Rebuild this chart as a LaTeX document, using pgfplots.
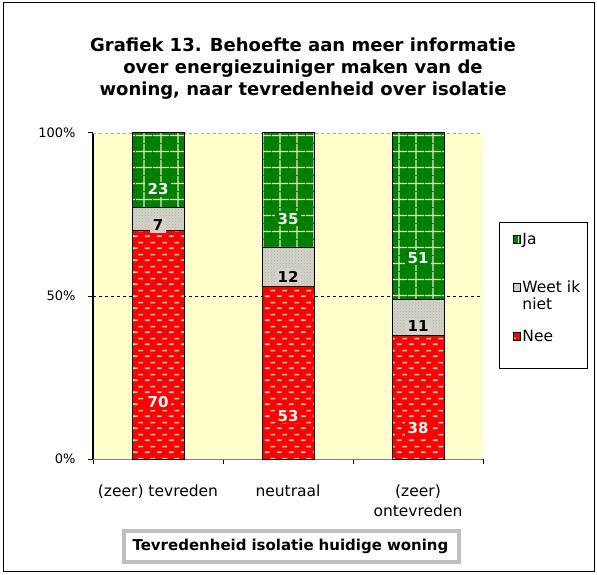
\documentclass[border=0pt]{standalone}
\usepackage{fontspec}
\setmainfont{DejaVu Sans}
\usepackage{pgfplots}
\pgfplotsset{compat=1.18}
\usetikzlibrary{patterns}

\definecolor{bgyellow}{RGB}{255,255,204}
\definecolor{jagreen}{RGB}{0,128,0}
\definecolor{neered}{RGB}{255,0,0}
\definecolor{weetgray}{RGB}{210,210,198}
\definecolor{dashpink}{RGB}{255,205,205}
\definecolor{gridcream}{RGB}{225,235,190}

% white dashes on the red bars
\pgfdeclarepatternformonly{reddashes}{\pgfqpoint{0pt}{0pt}}{\pgfqpoint{12pt}{12pt}}{\pgfqpoint{12pt}{12pt}}{%
  \pgfsetlinewidth{1.8pt}%
  \pgfpathmoveto{\pgfqpoint{1pt}{3pt}}\pgfpathlineto{\pgfqpoint{6pt}{3pt}}%
  \pgfpathmoveto{\pgfqpoint{7pt}{9pt}}\pgfpathlineto{\pgfqpoint{12pt}{9pt}}%
  \pgfusepath{stroke}}
% coarse grid on the green bars
\pgfdeclarepatternformonly{biggrid}{\pgfqpoint{0pt}{0pt}}{\pgfqpoint{17pt}{16pt}}{\pgfqpoint{17pt}{16pt}}{%
  \pgfsetlinewidth{1.3pt}%
  \pgfpathmoveto{\pgfqpoint{0pt}{8pt}}\pgfpathlineto{\pgfqpoint{17pt}{8pt}}%
  \pgfpathmoveto{\pgfqpoint{8.5pt}{0pt}}\pgfpathlineto{\pgfqpoint{8.5pt}{16pt}}%
  \pgfusepath{stroke}}

\begin{document}
\begin{tikzpicture}[x=1pt,y=1pt]
\fill[white] (0,0) rectangle (597,574);
\draw[black,line width=1pt] (3,3) rectangle (594,571);
\node[font=\bfseries\fontsize{18}{22}\selectfont,align=center] at (303,505)
  {Grafiek 13. Behoefte aan meer informatie\\over energiezuiniger maken van de\\woning, naar tevredenheid over isolatie};
\node[draw=gray!50,line width=3.5pt,font=\bfseries\fontsize{15}{16}\selectfont,
  minimum width=335pt,minimum height=31pt,text width=318pt,align=left] at (291.5,27.5)
  {Tevredenheid isolatie huidige woning};
% legend frame
\draw[black,line width=0.9pt] (499.5,206) rectangle (587,352);
\begin{axis}[
at={(93pt,115pt)},anchor=south west,
scale only axis,width=390pt,height=326pt,
ybar stacked,bar width=52pt,
xmin=-0.5,xmax=2.5,ymin=0,ymax=100,
axis background/.style={fill=bgyellow},
axis x line*=bottom,axis y line*=left,
x axis line style={gray,line width=1pt,-},
y axis line style={black,line width=1.6pt,-},
xtick={0,1,2},
xticklabels={(zeer) tevreden,neutraal,{(zeer)\\ontevreden}},
xticklabel style={align=center,font=\fontsize{15.5}{20}\selectfont,yshift=-17pt},
minor xtick={-0.5,0.5,1.5,2.5},
major x tick style={draw=none},
minor x tick style={black,line width=1pt},
minor tick length=5pt,
ytick={0,50},
extra y ticks={100},
extra y tick style={grid style={gray!70,dashed,line width=0.8pt}},
yticklabel={\pgfmathprintnumber{\tick}\%},
yticklabel style={font=\fontsize{13}{14}\selectfont,xshift=-9pt},
ymajorgrids=true,
grid style={black,dashed,line width=0.9pt},
tick align=outside,major tick length=5pt,
ytick style={black,line width=1pt},
/pgf/number format/assume math mode=true,
point meta=explicit symbolic,
nodes near coords={\pgfplotspointmeta},
every node near coord/.append style={anchor=center,yshift=-\pgfplotspointmeta*0.815pt,
  font=\bfseries\fontsize{15}{16}\selectfont,inner xsep=3pt,inner ysep=2pt},
legend style={at={(1.0756,0.6994)},anchor=north west,draw=none,fill=none,
  font=\fontsize{15.5}{17}\selectfont,cells={anchor=west,align=left,inner xsep=1pt},
  row sep=31.5pt,inner sep=0pt},
legend image code/.code={\draw[#1,draw=black,line width=0.8pt] (0pt,-4pt) rectangle (7pt,4pt);},
reverse legend,
]
\addplot[fill=neered,draw=black,line width=1pt,
  postaction={pattern=reddashes,pattern color=dashpink},
  every node near coord/.append style={text=white,fill=neered}]
  coordinates {(0,70) [70] (1,53) [53] (2,38) [38]};
\addplot[fill=weetgray,draw=black,line width=1pt,
  postaction={pattern=crosshatch dots,pattern color=gray!60},
  every node near coord/.append style={text=black,fill=weetgray}]
  coordinates {(0,7) [7] (1,12) [12] (2,11) [11]};
\addplot[fill=jagreen,draw=black,line width=1pt,
  postaction={pattern=biggrid,pattern color=gridcream},
  every node near coord/.append style={text=white,fill=jagreen}]
  coordinates {(0,23) [23] (1,35) [35] (2,51) [51]};
\legend{Nee,{\vphantom{Ja}\smash{\begin{tabular}[t]{@{}l@{}}Weet ik\\niet\end{tabular}}},Ja}
\end{axis}
\end{tikzpicture}
\end{document}
